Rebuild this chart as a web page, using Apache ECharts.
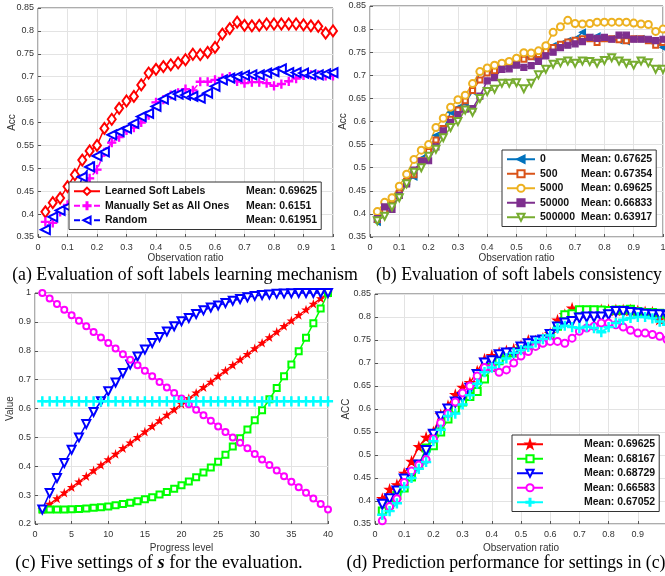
<!DOCTYPE html>
<html><head><meta charset="utf-8">
<script src="https://cdn.jsdelivr.net/npm/echarts@6/dist/echarts.min.js"></script>
<style>html,body{margin:0;padding:0;background:#fff}#c{width:665px;height:576px}</style>
</head><body><div id="c"></div>
<script>
// ---------- DATA ----------
const ratioX = [0.025,0.05,0.075,0.1,0.125,0.15,0.175,0.2,0.225,0.25,0.275,0.3,0.325,0.35,0.375,0.4,0.425,0.45,0.475,0.5,0.525,0.55,0.575,0.6,0.625,0.65,0.675,0.7,0.725,0.75,0.775,0.8,0.825,0.85,0.875,0.9,0.925,0.95,0.975,1];
const levelX = [1,2,3,4,5,6,7,8,9,10,11,12,13,14,15,16,17,18,19,20,21,22,23,24,25,26,27,28,29,30,31,32,33,34,35,36,37,38,39,40];

// (a)
const aLearned = [0.405,0.425,0.435,0.46,0.486,0.518,0.538,0.55,0.587,0.607,0.631,0.647,0.657,0.682,0.708,0.716,0.722,0.726,0.73,0.737,0.749,0.748,0.753,0.764,0.793,0.805,0.819,0.812,0.811,0.812,0.815,0.815,0.815,0.815,0.815,0.813,0.811,0.81,0.795,0.8];
const aAllOnes = [0.383,0.381,0.405,0.42,0.44,0.458,0.478,0.497,0.535,0.556,0.568,0.583,0.589,0.6,0.616,0.644,0.65,0.66,0.665,0.673,0.67,0.689,0.689,0.693,0.697,0.7,0.69,0.686,0.688,0.688,0.686,0.68,0.684,0.69,0.696,0.703,0.704,0.704,0.702,0.702];
const aRandom = [0.366,0.394,0.408,0.416,0.432,0.481,0.503,0.527,0.536,0.573,0.58,0.587,0.598,0.613,0.62,0.635,0.651,0.66,0.662,0.66,0.657,0.653,0.664,0.679,0.693,0.697,0.7,0.703,0.704,0.704,0.708,0.711,0.717,0.709,0.709,0.708,0.704,0.704,0.706,0.709];
const aNames = ['Learned Soft Labels','Manually Set as All Ones','Random'];
const aMeans = ['0.69625','0.6151','0.61951'];

// (b)
const b0 = [0.382,0.41,0.425,0.445,0.47,0.48,0.52,0.535,0.57,0.58,0.62,0.63,0.64,0.665,0.708,0.71,0.715,0.722,0.725,0.73,0.738,0.74,0.745,0.756,0.764,0.768,0.775,0.779,0.793,0.782,0.785,0.78,0.779,0.775,0.773,0.779,0.779,0.775,0.771,0.76];
const b500 = [0.388,0.405,0.42,0.445,0.47,0.485,0.515,0.535,0.56,0.585,0.605,0.625,0.645,0.667,0.69,0.705,0.71,0.725,0.728,0.733,0.735,0.74,0.745,0.753,0.76,0.767,0.772,0.776,0.779,0.779,0.771,0.779,0.779,0.777,0.775,0.779,0.779,0.775,0.765,0.771];
const b5000 = [0.405,0.425,0.435,0.46,0.486,0.518,0.538,0.55,0.587,0.607,0.631,0.647,0.657,0.682,0.708,0.716,0.722,0.726,0.73,0.737,0.749,0.748,0.753,0.764,0.793,0.805,0.819,0.812,0.811,0.812,0.815,0.815,0.815,0.815,0.815,0.813,0.811,0.81,0.795,0.8];
const b50000 = [0.39,0.415,0.41,0.44,0.465,0.495,0.513,0.515,0.545,0.58,0.598,0.615,0.627,0.628,0.655,0.688,0.695,0.713,0.714,0.722,0.717,0.721,0.73,0.742,0.75,0.76,0.765,0.768,0.773,0.782,0.78,0.782,0.778,0.787,0.787,0.778,0.778,0.778,0.775,0.778];
const b500000 = [0.385,0.395,0.415,0.435,0.465,0.49,0.5,0.525,0.54,0.565,0.587,0.6,0.625,0.62,0.65,0.665,0.67,0.683,0.683,0.684,0.671,0.683,0.701,0.713,0.724,0.727,0.731,0.726,0.731,0.73,0.726,0.732,0.738,0.731,0.726,0.722,0.731,0.727,0.713,0.713];
const bNames = ['0','500','5000','50000','500000'];
const bMeans = ['0.67625','0.67354','0.69625','0.66833','0.63917'];

// (c)
const cLinearUp = [0.25,0.269,0.288,0.308,0.327,0.346,0.365,0.385,0.404,0.423,0.442,0.462,0.481,0.5,0.519,0.538,0.558,0.577,0.596,0.615,0.635,0.654,0.673,0.692,0.712,0.731,0.75,0.769,0.788,0.808,0.827,0.846,0.865,0.885,0.904,0.923,0.942,0.962,0.981,1];
const cConvex = [0.25,0.25,0.25,0.25,0.251,0.252,0.254,0.256,0.258,0.261,0.265,0.269,0.274,0.279,0.286,0.293,0.302,0.311,0.322,0.334,0.347,0.362,0.378,0.396,0.416,0.44,0.468,0.497,0.527,0.559,0.594,0.632,0.671,0.712,0.752,0.798,0.845,0.895,0.946,1];
const cConcave = [0.25,0.307,0.359,0.411,0.457,0.5,0.546,0.588,0.625,0.66,0.69,0.723,0.752,0.78,0.804,0.827,0.848,0.867,0.885,0.902,0.913,0.927,0.94,0.95,0.957,0.965,0.973,0.979,0.985,0.99,0.993,0.995,0.997,0.998,0.999,1,1,1,1,1];
const cLinearDown = [1,0.981,0.962,0.942,0.923,0.904,0.885,0.865,0.846,0.827,0.808,0.788,0.769,0.75,0.731,0.712,0.692,0.673,0.654,0.635,0.615,0.596,0.577,0.558,0.538,0.519,0.5,0.481,0.462,0.442,0.423,0.404,0.385,0.365,0.346,0.327,0.308,0.288,0.269,0.25];
const cConstant = [0.625,0.625,0.625,0.625,0.625,0.625,0.625,0.625,0.625,0.625,0.625,0.625,0.625,0.625,0.625,0.625,0.625,0.625,0.625,0.625,0.625,0.625,0.625,0.625,0.625,0.625,0.625,0.625,0.625,0.625,0.625,0.625,0.625,0.625,0.625,0.625,0.625,0.625,0.625,0.625];

// (d)
const dRed = [0.405,0.425,0.435,0.46,0.486,0.518,0.538,0.55,0.587,0.607,0.631,0.647,0.657,0.682,0.708,0.716,0.722,0.726,0.73,0.737,0.749,0.748,0.753,0.764,0.793,0.805,0.819,0.812,0.811,0.812,0.815,0.815,0.815,0.815,0.815,0.813,0.811,0.81,0.795,0.8];
const dGreen = [0.378,0.392,0.412,0.428,0.452,0.478,0.515,0.52,0.55,0.578,0.6,0.615,0.627,0.638,0.665,0.69,0.705,0.72,0.722,0.728,0.735,0.74,0.748,0.756,0.78,0.805,0.807,0.816,0.816,0.816,0.815,0.814,0.815,0.815,0.817,0.812,0.81,0.81,0.808,0.805];
const dBlue = [0.393,0.405,0.422,0.448,0.46,0.478,0.51,0.545,0.583,0.6,0.615,0.625,0.645,0.675,0.7,0.705,0.718,0.722,0.722,0.735,0.742,0.748,0.75,0.762,0.778,0.787,0.79,0.798,0.8,0.8,0.8,0.805,0.812,0.812,0.81,0.808,0.806,0.805,0.805,0.802];
const dMagenta = [0.357,0.388,0.405,0.44,0.465,0.478,0.49,0.535,0.57,0.59,0.615,0.635,0.65,0.672,0.69,0.69,0.68,0.685,0.7,0.715,0.725,0.736,0.743,0.747,0.747,0.743,0.754,0.769,0.776,0.78,0.787,0.787,0.783,0.778,0.771,0.765,0.765,0.762,0.758,0.751];
const dCyan = [0.37,0.378,0.395,0.43,0.45,0.47,0.485,0.53,0.555,0.585,0.59,0.61,0.63,0.655,0.68,0.69,0.7,0.71,0.722,0.728,0.735,0.745,0.752,0.76,0.776,0.781,0.778,0.776,0.779,0.776,0.767,0.778,0.787,0.794,0.798,0.8,0.8,0.797,0.79,0.783];
const dMeans = ['0.69625','0.68167','0.68729','0.66583','0.67052'];

const captions = ['(a) Evaluation of soft labels learning mechanism','(b) Evaluation of soft labels consistency','(c) Five settings of ','s',' for the evaluation.','(d) Prediction performance for settings in (c)'];

// ---------- STYLE HELPERS ----------
const SANS = '"Liberation Sans", Arial, sans-serif';
const SERIF = '"Liberation Serif", "Times New Roman", serif';
const PLUS = 'path://M-1,-0.14L-0.14,-0.14L-0.14,-1L0.14,-1L0.14,-0.14L1,-0.14L1,0.14L0.14,0.14L0.14,1L-0.14,1L-0.14,0.14L-1,0.14Z';
const STAR = 'path://M0,-1L0.2245,-0.309L0.951,-0.309L0.363,0.118L0.588,0.809L0,0.382L-0.588,0.809L-0.363,0.118L-0.951,-0.309L-0.2245,-0.309Z';

function pairs(xs, ys){ return xs.map((x,i)=>[x, ys[i]]); }

const grids = [
  {left:38, top:8, width:295, height:229},
  {left:370, top:6, width:293, height:231},
  {left:35, top:293, width:293, height:231},
  {left:375, top:294, width:292, height:230}
].map(g=>Object.assign(g,{show:true, borderColor:'#5a5a5a', borderWidth:1, backgroundColor:'#fff', containLabel:false, outerBoundsMode:'none'}));

function xAx(gi, min, max, interval, name, gap){
  return {type:'value', gridIndex:gi, min, max, interval, name, nameLocation:'middle', nameGap:gap, nameMoveOverlap:false,
    nameTextStyle:{fontFamily:SANS, fontSize:10, color:'#333'},
    axisLine:{show:false}, axisTick:{show:true, inside:true, length:3, lineStyle:{color:'#555'}},
    axisLabel:{fontFamily:SANS, fontSize:9, color:'#333', margin:6},
    splitLine:{show:true, lineStyle:{color:'#e3e3e3', width:1}}};
}
function yAx(gi, min, max, interval, name, gap){
  return {type:'value', gridIndex:gi, min, max, interval, name, nameLocation:'middle', nameGap:gap, nameRotate:90, nameMoveOverlap:false,
    nameTextStyle:{fontFamily:SANS, fontSize:10, color:'#333'},
    axisLine:{show:false}, axisTick:{show:true, inside:true, length:3, lineStyle:{color:'#555'}},
    axisLabel:{fontFamily:SANS, fontSize:9, color:'#333', margin:4},
    splitLine:{show:true, lineStyle:{color:'#e3e3e3', width:1}}};
}

function ser(gi, name, xs, ys, color, symbol, size, opts){
  opts = opts || {};
  return {type:'line', name, xAxisIndex:gi, yAxisIndex:gi, data:pairs(xs, ys), clip:false,
    symbol, symbolSize:size, symbolRotate:opts.rot||0, showAllSymbol:true, animation:false,
    lineStyle:{color, width:opts.lw||1.5, type:opts.dash?[6,4]:'solid'},
    itemStyle:{color, borderColor:color, borderWidth:opts.bw||1.2}, emphasis:{disabled:true}};
}

const series = [
  ser(0, aNames[0], ratioX, aLearned, '#ff0000', 'emptyDiamond', [8,11]),
  ser(0, aNames[1], ratioX, aAllOnes, '#ff00ff', PLUS, 8, {dash:true}),
  ser(0, aNames[2], ratioX, aRandom, '#0000ff', 'emptyTriangle', 9, {dash:true, rot:90}),

  ser(1, bNames[0], ratioX, b0, '#0072BD', 'triangle', 6, {rot:90}),
  ser(1, bNames[1], ratioX, b500, '#D95319', 'emptyRect', 5),
  ser(1, bNames[2], ratioX, b5000, '#EDB120', 'emptyCircle', 7),
  ser(1, bNames[3], ratioX, b50000, '#7E2F8E', 'rect', 6),
  ser(1, bNames[4], ratioX, b500000, '#77AC30', 'emptyTriangle', 7, {rot:180}),

  ser(2, 'c-red', levelX, cLinearUp, '#ff0000', STAR, 6),
  ser(2, 'c-green', levelX, cConvex, '#00ff00', 'emptyRect', 6),
  ser(2, 'c-blue', levelX, cConcave, '#0000ff', 'emptyTriangle', 8, {rot:180}),
  ser(2, 'c-magenta', levelX, cLinearDown, '#ff00ff', 'emptyCircle', 6),
  ser(2, 'c-cyan', levelX, cConstant, '#00ffff', PLUS, 9, {lw:2}),

  ser(3, 'Mean: '+dMeans[0], ratioX, dRed, '#ff0000', STAR, 9),
  ser(3, 'Mean: '+dMeans[1], ratioX, dGreen, '#00ff00', 'emptyRect', 7),
  ser(3, 'Mean: '+dMeans[2], ratioX, dBlue, '#0000ff', 'emptyTriangle', 9, {rot:180}),
  ser(3, 'Mean: '+dMeans[3], ratioX, dMagenta, '#ff00ff', 'emptyCircle', 7),
  ser(3, 'Mean: '+dMeans[4], ratioX, dCyan, '#00ffff', PLUS, 9, {lw:2})
];

function legendBox(names, left, top, nameW, fmt, iw){
  return {show:true, orient:'vertical', left, top, data:names, selectedMode:false,
    itemWidth:iw, itemHeight:9, itemGap:2, itemTextGap:4, padding:[3,4,3,4],
    backgroundColor:'#fff', borderColor:'#333', borderWidth:1, borderRadius:0,
    textStyle:{fontFamily:SANS, fontWeight:'bold', fontSize:10.5, color:'#111', lineHeight:12.5,
      rich:{n:{width:nameW, fontFamily:SANS, fontWeight:'bold', fontSize:10.5, color:'#111'},
            m:{fontFamily:SANS, fontWeight:'bold', fontSize:10.5, color:'#111'}}},
    formatter: fmt};
}

const legends = [
  legendBox(aNames, 69, 182, 141, n=>'{n|'+n+'}{m|Mean: '+aMeans[aNames.indexOf(n)]+'}', 26),
  legendBox(bNames, 502, 150, 41, n=>'{n|'+n+'}{m|Mean: '+bMeans[bNames.indexOf(n)]+'}', 28),
  legendBox(dMeans.map(m=>'Mean: '+m), 512, 435, 36, n=>'{n|}{m|'+n+'}', 26)
];

const capFont = 'normal 17.8px ' + SERIF;
const graphic = [
  {type:'text', x:185, y:275, style:{text:captions[0], font:capFont, fill:'#000', align:'center', verticalAlign:'middle'}},
  {type:'text', x:519, y:275, style:{text:captions[1], font:capFont, fill:'#000', align:'center', verticalAlign:'middle'}},
  {type:'text', x:159, y:563, style:{text:'{t|'+captions[2]+'}{s|'+captions[3]+'}{t|'+captions[4]+'}', fill:'#000', align:'center', verticalAlign:'middle',
     rich:{t:{fontFamily:SERIF, fontSize:18.3, fill:'#000'}, s:{fontFamily:SERIF, fontSize:18.3, fontWeight:'bold', fontStyle:'italic', fill:'#000'}}}},
  {type:'text', x:506, y:563, style:{text:captions[5], font:capFont, fill:'#000', align:'center', verticalAlign:'middle'}}
];

const chart = echarts.init(document.getElementById('c'), null, {renderer:'canvas'});
chart.setOption({
  animation:false,
  backgroundColor:'#fff',
  grid: grids,
  xAxis:[xAx(0,0,1,0.1,'Observation ratio',16.5), xAx(1,0,1,0.1,'Observation ratio',16.5), xAx(2,0,40,5,'Progress level',19), xAx(3,0,1,0.1,'Observation ratio',19)],
  yAxis:[yAx(0,0.35,0.85,0.05,'Acc',20.5), yAx(1,0.35,0.85,0.05,'Acc',21.5), yAx(2,0.2,1,0.1,'Value',19.5), yAx(3,0.35,0.85,0.05,'ACC',23.5)],
  legend: legends,
  series,
  graphic
});
</script></body></html>
